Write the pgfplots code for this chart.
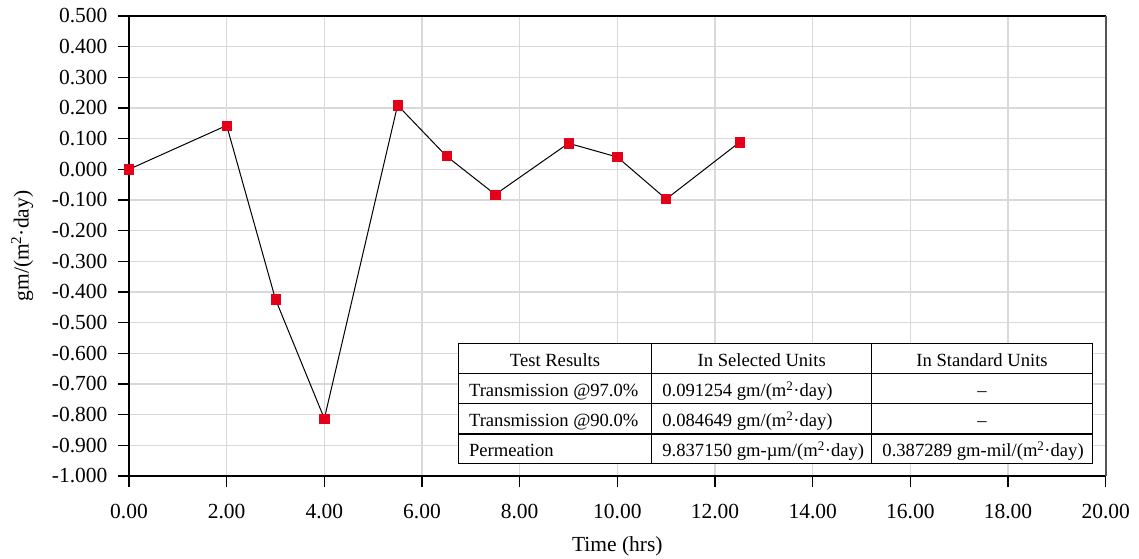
\documentclass[border=0pt]{standalone}
\usepackage{fontspec}
\setmainfont{Liberation Serif}
\usepackage{pgfplots}
\pgfplotsset{compat=1.18}
\definecolor{markred}{RGB}{228,0,24}
\definecolor{gridgray}{RGB}{217,217,217}
\definecolor{rightgray}{RGB}{85,85,85}
\newcommand{\tickfont}{\fontsize{21.5bp}{26bp}\selectfont}
\newcommand{\tabfont}{\fontsize{18.6bp}{22bp}\selectfont}
\begin{document}
\begin{tikzpicture}
\begin{axis}[
  scale only axis,
  width=976.7bp, height=460bp,
  xmin=0, xmax=20, ymin=-1, ymax=0.5,
  xtick={0,2,...,20},
  ytick={-1,-0.9,...,0.5},
  tick pos=left,
  tick align=outside,
  major tick length=11bp,
  tick style={black, line width=1.3bp},
  grid=major,
  major grid style={gridgray, line width=1.1bp},
  axis line style={black, line width=1.5bp},
  clip=false,
  /pgf/number format/assume math mode=true,
  xticklabel={\pgfmathprintnumber[fixed,fixed zerofill,precision=2]{\tick}},
  yticklabel={\pgfmathprintnumber[fixed,fixed zerofill,precision=3]{\tick}},
  tick label style={font=\tickfont},
  xticklabel style={yshift=-14bp},
  yticklabel style={xshift=-7bp},
  xlabel={Time (hrs)},
  ylabel={gm/(m\textsuperscript{2}·day)},
  label style={font=\tickfont},
  xlabel style={at={(axis description cs:0.5,-0.1641)}, anchor=base},
  ylabel style={at={(axis description cs:-0.1028,0.5)}, anchor=base, rotate=0},
]
\coordinate (bbsw) at (rel axis cs:0,0);
\coordinate (bbne) at (rel axis cs:1,1);
\draw[rightgray, line width=2.2bp] (rel axis cs:1,0) -- (rel axis cs:1,1);

\addplot[black, line width=1bp, mark=square*, mark size=4.6bp,
  mark options={fill=markred, draw=markred, line width=0.6bp}]
  coordinates {
  (0,0) (2,0.143) (3,-0.424) (4,-0.813) (5.5,0.209) (6.5,0.043)
  (7.5,-0.082) (9,0.085) (10,0.040) (11,-0.097) (12.5,0.088)
  };

% results table
\fill[white] (axis cs:6.744,-0.5673) rectangle (axis cs:19.727,-0.9586);
\draw[black, line width=1.1bp] (axis cs:6.744,-0.5673) rectangle (axis cs:19.727,-0.9586);
\draw[black, line width=1.1bp]
  (axis cs:6.744,-0.6651) -- (axis cs:19.727,-0.6651)
  (axis cs:6.744,-0.7629) -- (axis cs:19.727,-0.7629)
  (axis cs:6.744,-0.8630) -- (axis cs:19.727,-0.8630)
  (axis cs:10.704,-0.5673) -- (axis cs:10.704,-0.9586)
  (axis cs:15.21,-0.5673) -- (axis cs:15.21,-0.9586);
\begin{scope}[every node/.style={inner sep=0pt, font=\tabfont}]
\node[anchor=base] at (axis cs:8.724,-0.6423) {Test Results};
\node[anchor=base] at (axis cs:12.957,-0.6423) {In Selected Units};
\node[anchor=base] at (axis cs:17.469,-0.6423) {In Standard Units};
\node[anchor=base west] at (axis cs:6.959,-0.7401) {Transmission @97.0\%};
\node[anchor=base west] at (axis cs:10.919,-0.7401) {0.091254 gm/(m\textsuperscript{2}·day)};
\node[anchor=base] at (axis cs:17.469,-0.7401) {–};
\node[anchor=base west] at (axis cs:6.959,-0.8379) {Transmission @90.0\%};
\node[anchor=base west] at (axis cs:10.919,-0.8379) {0.084649 gm/(m\textsuperscript{2}·day)};
\node[anchor=base] at (axis cs:17.469,-0.8379) {–};
\node[anchor=base west] at (axis cs:6.959,-0.9380) {Permeation};
\node[anchor=base west] at (axis cs:10.919,-0.9380) {9.837150 gm-µm/(m\textsuperscript{2}·day)};
\node[anchor=base west] at (axis cs:15.425,-0.9380) {0.387289 gm-mil/(m\textsuperscript{2}·day)};
\end{scope}
\end{axis}
\pgfresetboundingbox
\path ([xshift=-129bp,yshift=-83bp]bbsw) rectangle ([xshift=33.3bp,yshift=16bp]bbne);
\end{tikzpicture}
\end{document}
